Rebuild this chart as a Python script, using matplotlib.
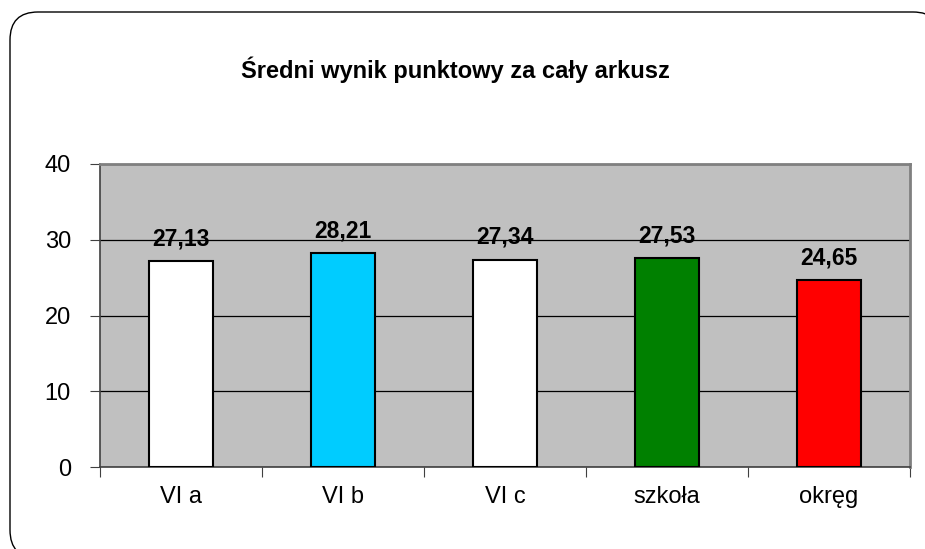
import matplotlib
matplotlib.use('Agg')
import matplotlib.pyplot as plt
from matplotlib.patches import FancyBboxPatch

plt.rcParams['font.family'] = ['Liberation Sans', 'DejaVu Sans']

categories = ['VI a', 'VI b', 'VI c', 'szkoła', 'okręg']
values = [27.13, 28.21, 27.34, 27.53, 24.65]
colors = ['#FFFFFF', '#00CCFF', '#FFFFFF', '#008000', '#FF0000']
title = 'Średni wynik punktowy za cały arkusz'

fig = plt.figure(figsize=(9.25, 5.49), dpi=100)

# rounded frame around the chart, in figure fraction (partly off the canvas right/bottom)
# filled white so agg doesn't clip it to the canvas edge
W, H = 925.0, 549.0
r = 28
frame = FancyBboxPatch((10 / W, -9 / H), 931 / W, 546 / H,
                       boxstyle=f'round,pad=0,rounding_size={r / W}',
                       mutation_aspect=W / H, zorder=-1,
                       transform=fig.transFigure, facecolor='white', edgecolor='black', linewidth=1.0)
fig.patches.append(frame)

ax = fig.add_axes([100 / 925, 1 - 467 / 549, 810 / 925, 303 / 549])
ax.set_facecolor('#C0C0C0')

x = list(range(len(categories)))
bars = ax.bar(x, values, width=0.4, color=colors, edgecolor='black', linewidth=1.5, zorder=3)

for xi, v in zip(x, values):
    ax.annotate(f'{v:.2f}'.replace('.', ','), (xi, v), xytext=(0, 8), textcoords='offset points',
                ha='center', va='bottom', fontsize=16.5, fontweight='bold', zorder=4)

ax.set_xlim(-0.5, len(categories) - 0.5)
ax.set_ylim(0, 40)
ax.set_yticks([0, 10, 20, 30, 40])
ax.yaxis.grid(True, color='black', linewidth=0.9, zorder=1)
ax.set_axisbelow(True)

ax.set_xticks([i - 0.5 for i in range(len(categories) + 1)])
ax.set_xticklabels([])
ax.set_xticks(x, minor=True)
ax.set_xticklabels(categories, minor=True, fontsize=17)
ax.tick_params(axis='x', which='minor', length=0, pad=14)
ax.tick_params(axis='x', which='major', length=7, direction='out', color='#404040')
ax.tick_params(axis='y', length=7, direction='out', labelsize=17, pad=14, color='#404040')

for side in ['top', 'right']:
    ax.spines[side].set_color('#808080')
    ax.spines[side].set_linewidth(2)
for side in ['left', 'bottom']:
    ax.spines[side].set_color('#404040')
    ax.spines[side].set_linewidth(1.2)

fig.text(455 / 925, 1 - 70 / 549, title, ha='center', va='center', fontsize=17, fontweight='bold')

fig.savefig('out.png', dpi=100)
